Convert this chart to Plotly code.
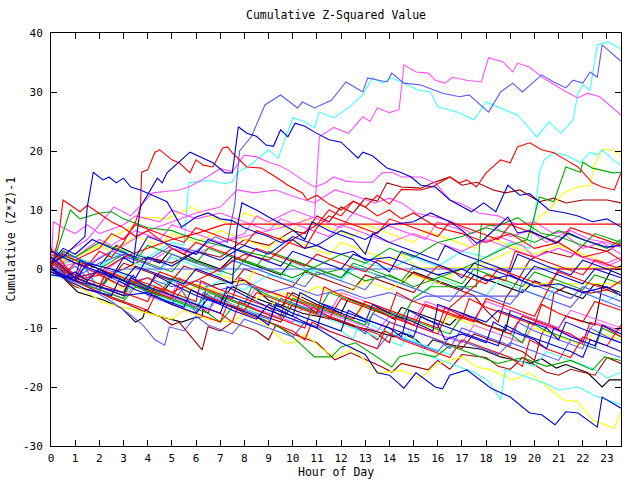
import plotly.graph_objects as go

# ---------------- data (hour, value) knots ----------------
x_ticks = list(range(0, 24))
y_ticks = [-30, -20, -10, 0, 10, 20, 30, 40]
y_ticklabels = ["-30", "-20", "-10", "0", "10", "20", "30", "40"]

lightblue_lines = [
    [(0,1),(1,-1.5),(2,1),(3,2.5),(4,1.5),(5,4),(6,3),(6.8,5.5),(7.3,4.5),(7.6,11),(7.8,20),(8.3,22.5),(8.85,27.8),(9.5,29.5),(10.2,27.3),(10.4,28.3),(10.9,27.3),(11.6,28.6),(12.2,31.7),(12.9,30),(13.1,32.4),(13.9,31.7),(14.1,33.2),(14.6,31.5),(15.3,31.2),(15.9,30.3),(16.2,29.8),(16.9,29.2),(17.3,29.5),(18.1,26.6),(18.6,30),(19.1,31.5),(19.5,30),(20.3,32.9),(20.8,31.7),(21.3,30.7),(21.6,32),(22,31.5),(22.3,33.4),(22.6,32.5),(22.8,38),(23.58,35.2)],
    [(0,-0.5),(0.5,-1.5),(1.5,-3),(2.5,-5.5),(3.2,-7.5),(3.8,-9.5),(4.3,-12),(4.7,-12.9),(4.9,-9.8),(5.5,-10.5),(6,-8),(6.5,-9.5),(7.5,-11),(8,-8.5),(9,-10),(10,-11.5),(10.5,-9),(11.5,-10.5),(12.5,-12),(13.5,-13.5),(14,-11),(15,-12.5),(16,-14),(16.5,-11.5),(17.5,-13),(18.5,-14.5),(19,-12.5),(20,-14),(21,-15.5),(21.5,-12),(22.5,-13.5),(23.58,-15)],
    [(0,2),(0.5,-1),(1,0.5),(1.5,-1.5),(2,0),(2.5,-1),(3,0),(23.58,0)],
    [(0,0),(1,-1.5),(2,-0.5),(3,-2.5),(4,-1.5),(5,-3),(6,-2),(7,-3.5),(8,-2.5),(9,-4),(10,-3),(11,-4.5),(12,-3.5),(13,-5),(14,-4),(15,-5.5),(15.5,-4.6),(19.3,-4.6),(19.5,-2),(20.5,-3.5),(21.5,-5),(22,-3),(23,-4.5),(23.58,-5.5)],
    [(0,3),(1,2),(1.5,0.5),(2.5,3),(3.5,1.5),(4.5,0),(5,2.5),(6,1),(7,-0.5),(7.5,1.5),(8.5,0),(9.5,-1.5),(10.5,-3),(11,-0.5),(12,-2),(13,-3.5),(13.5,-1),(14.5,-2.5),(15.5,-4),(16.5,-5.5),(17,-3),(18,-4.5),(19,-6),(19.5,-3.5),(20.5,-5),(21.5,-6.5),(22,-4),(23,-5.5),(23.58,-6.5)],
    [(0,0.5),(1,-2),(1.4,0.5),(2,-4),(2.3,-1.5),(3,-3),(3.4,-1),(4,-4.5),(5,-6),(5.4,-3.5),(6,-7.5),(6.3,-4),(7,-5.5),(8,-7),(9,-8.5),(9.5,-5),(10.5,-6.5),(11.5,-8),(12.5,-9.5),(13,-11),(13.3,-7.5),(14,-9),(15,-10.5),(16,-12),(16.5,-13.5),(17,-10),(18,-11.5),(19,-13),(19.3,-9),(20,-10.5),(21,-12),(22,-13.5),(22.3,-10),(23,-11.5),(23.58,-12.5)],
]

cyan_lines = [
    [(0,-0.5),(1,2),(2,0.5),(3,3),(4,2),(5,4.5),(5.5,4),(5.7,14.6),(6.5,15),(7.2,14.5),(7.5,14.8),(7.7,16.3),(8.2,17.5),(9,20.2),(9.4,18.8),(10,25.6),(10.5,25),(10.9,23.9),(11.1,26.6),(11.7,25.6),(12.3,27.3),(12.9,29.5),(13.3,32.4),(13.7,31.5),(14.1,32.4),(14.6,31.5),(15.2,30.3),(15.7,30),(16,27.5),(16.8,26.6),(17.5,25.3),(18,28.3),(18.6,27.3),(19.3,26.1),(20.1,22.4),(20.6,24.9),(21.1,23),(21.6,25.3),(21.8,29.8),(22.0,31.2),(22.3,30.3),(22.6,38),(23.05,38.5),(23.58,37.3)],
    [(0,1),(1,-1),(2,-2.5),(2.4,0),(3,-1),(4,-3),(5,-2),(6,-4),(7,-2),(8,-3.5),(9,-1),(10,-2),(11,0),(12,-1.5),(13,1),(14,0),(15,2),(16,0.5),(17,3),(18,2),(19,4.5),(19.8,3.5),(20.0,8.3),(20.2,16.3),(20.4,18.5),(20.8,19.7),(21.3,19.3),(21.9,18),(22.3,19.8),(22.6,19.3),(22.8,20.2),(23.25,18.5),(23.58,17.6)],
    [(0,0),(1,-1.5),(1.3,0.5),(2,-3),(3,-4.5),(3.5,-2),(4.5,-3.5),(5.5,-5),(6.5,-6.5),(7,-4),(8,-5.5),(9,-7),(10,-8.5),(10.5,-10),(10.8,-7),(11.5,-8.5),(12.5,-10),(13.5,-11.5),(14.5,-13),(14.8,-10.5),(15.5,-14.5),(16.5,-16),(17.5,-17.5),(18.1,-19),(18.6,-22.2),(18.8,-17),(19.5,-18),(20.5,-19.5),(21,-20.5),(21.8,-20),(22.5,-21.5),(23.58,-23)],
    [(0,4),(0.5,2),(1,1),(2,-0.5),(2.5,2.5),(3.5,1),(4.5,-0.5),(5,2),(6,0.5),(7,-1),(7.5,1.5),(8.5,0),(9.5,-1.5),(10,1),(11,-0.5),(12,-2),(12.5,0.5),(13.5,-1),(14.5,-2.5),(15.5,-4),(16,-1.5),(17,-3),(18,-4.5),(18.5,-2),(19.5,-3.5),(20.5,-5),(21,-2.5),(22,-4),(23,-5.5),(23.58,-4)],
    [(0,-1),(1,-2),(2,-3.5),(3,-5),(3.3,-2.5),(4,-4),(5,-5.5),(6,-7),(6.5,-4.5),(7.5,-6),(8.5,-7.5),(9,-9),(9.3,-6),(10,-7.5),(11,-9),(12,-10.5),(12.5,-12),(12.8,-8.5),(13.5,-10),(14.5,-11.5),(15.5,-13),(16.5,-14.5),(17,-12),(18,-13.5),(19,-15),(20,-16.5),(20.5,-14),(21.5,-15.5),(22.5,-17),(23,-18.5),(23.58,-17.5)],
]

magenta_lines = [
    [(0,0),(1,1),(2,-1),(3,2),(4,1),(5,3.5),(6,2.5),(7,4.5),(8,5.5),(9,6.5),(10,7.5),(10.9,8.8),(11.1,22.4),(11.7,24),(12.3,23),(12.9,25.8),(13.2,25),(13.5,27.3),(14.0,26.5),(14.4,27),(14.6,34.6),(15.1,33.4),(15.6,33.2),(15.9,32),(16.3,31.5),(16.6,32.5),(17.2,32),(17.8,31.7),(18.1,35.8),(18.7,35.1),(19.1,33.4),(19.3,34.9),(19.8,34.2),(20.35,32.4),(21.2,30.3),(21.8,29),(22.2,29.8),(22.7,29.2),(23.58,26.1)],
    [(0,1.5),(0.7,3),(1.5,5),(2.6,10.5),(3.3,9),(4.2,12.9),(5.3,13.4),(5.7,13.9),(6.45,15.6),(7.0,17),(7.5,16.5),(8.0,19.3),(8.5,19),(9.0,18.1),(9.4,17.6),(9.8,16.8),(10.4,15.1),(10.9,13.9),(11.3,14.5),(11.7,15.6),(12.2,14.9),(12.7,14.7),(13.3,14.7),(13.7,16.3),(14.1,16.4),(14.5,15.6),(15.3,15.6),(15.9,14.6),(16.5,11.7),(17.0,11),(17.7,9.5),(18.5,9),(19.3,7.5),(20,8),(20.8,6),(21.5,6.5),(22.3,5),(23,4.5),(23.58,3.7)],
    [(0,2.5),(1,-1),(2,2),(3,4),(4,6.5),(5,8),(6,9.5),(7,10.5),(7.7,13.4),(8.4,12.9),(9.3,13.4),(10.1,12.2),(10.9,11.2),(11.2,12),(11.75,13.4),(12.5,12.5),(13.4,11.2),(14.0,12),(14.5,11.2),(15.1,9.5),(15.9,8.8),(16.6,8),(17.4,6),(18.2,7.5),(19,5.5),(19.8,6.5),(20.5,4.5),(21.2,6),(22,3.5),(22.8,4.5),(23.58,2.5)],
    [(0,1),(0.1,8),(0.5,7),(1,6),(1.5,7.5),(2,6),(3,7.5),(3.5,9),(4.5,8),(5,10),(6,8.5),(7,9.5),(8,8),(9,6.5),(9.5,8.5),(10.5,7),(11.5,5.5),(12,7.5),(13,6),(14,4.5),(15,6),(16,4.5),(17,3),(18,5),(19,3.5),(20,2),(21,3.5),(22,2),(23,1),(23.58,2)],
    [(0,-0.5),(1,-1.5),(2,-3),(2.3,0),(3,-1.5),(4,-3),(5,-4.5),(5.3,-1.5),(6,-3),(7,-4.5),(8,-6),(8.5,-3),(9.5,-4.5),(10.5,-6),(11.5,-7.5),(12,-4),(13,-5.5),(14,-7),(15,-8.5),(15.5,-5.5),(16.5,-7),(17.5,-8.5),(18,-5.5),(19,-7),(20,-8.5),(21,-10),(21.5,-7),(22.5,-8.5),(23.58,-10)],
    [(0,0.5),(1,2),(2,5),(2.5,4),(3.5,6.5),(4.5,5),(5,7.5),(6,6),(7,4.5),(8,6),(8.5,9),(9,8),(10,10),(11,8.5),(12,7),(12.5,9.5),(13.5,8),(14.5,6.5),(15.5,5),(16,8),(17,6.5),(17.5,4),(18.5,5.5),(19.5,4),(20,2),(21,3.5),(22,2),(23,0.5),(23.58,1.5)],
    [(0,0),(1,-2),(2,-3.5),(3,-5),(3.5,-2.5),(4.5,-4),(5.5,-5.5),(6.5,-7),(7,-4.5),(8,-6),(9,-7.5),(10,-9),(10.5,-6),(11.5,-7.5),(12.5,-9),(13.5,-10.5),(14,-8),(15,-9.5),(16,-11),(17,-12.5),(17.5,-9.5),(18.5,-11),(19.5,-12.5),(20,-9),(21,-10.5),(22,-12),(22.5,-9),(23.58,-10.5)],
]

blue_lines = [
    [(0,0.5),(0.5,-1.5),(1,-0.5),(1.5,-2),(2,0),(2.5,-1.5),(3,2),(3.4,1),(3.7,10.5),(4.4,15.4),(4.6,14.6),(4.8,16.3),(5.75,19.8),(6.3,18.8),(6.7,18),(7.2,16.3),(7.5,16.3),(7.75,24.1),(8.1,23),(8.5,22.5),(8.9,21),(9.2,20.8),(9.5,23.6),(9.8,22.4),(10.1,24.7),(10.5,24.2),(10.9,23.2),(11.5,21.9),(12.0,21.5),(12.7,18.8),(12.9,19.8),(13.3,19.2),(13.9,17.1),(14.5,16.3),(14.9,15.6),(15.3,14.2),(15.9,13.9),(16.5,11.7),(17.4,9.7),(17.9,11.2),(18.4,9.7),(18.9,14.2),(19.4,12.5),(19.8,12.8),(20.2,11.4),(20.6,10),(21.3,9.5),(21.8,9),(22.4,8),(23,8.5),(23.58,7.1)],
    [(0,3),(0.5,2),(1.0,4),(1.4,5.5),(1.5,10.5),(1.75,16.4),(2.15,15.1),(2.4,15.6),(2.7,14.6),(3.0,15.4),(3.3,13.9),(3.7,13.4),(4.2,12.5),(4.8,11.4),(5.4,7.1),(6,8.8),(6.5,9.5),(7,8.5),(7.5,8.2),(8,7),(8.5,6.2),(9,5.5),(9.5,4.5),(10,5),(10.5,3.5),(11,4),(11.5,3),(12,2.5),(12.5,3),(13,1.5),(14,2),(15,0.5),(16,-1),(17,0),(18,-2),(19,-1),(20,-3),(21,-2.5),(22,-4),(23,-3),(23.58,-4.5)],
    [(0,0),(1,-2),(2,-3),(3,-4.5),(4,-4),(5,-6),(6,-7.5),(6.5,-5),(7.5,-7),(8.5,-8.5),(9,-6),(10,-8),(11,-10),(12,-12.5),(13,-14.5),(13.5,-17.6),(14,-18),(14.6,-20.2),(15.1,-17.6),(15.9,-20),(16.2,-20.3),(16.5,-18),(17.2,-17.1),(18.2,-20.2),(19,-21.7),(19.8,-24.4),(20.3,-24.7),(20.85,-26.4),(21.3,-24.2),(21.8,-24.4),(22.6,-26.8),(22.8,-21.7),(23.58,-23.6)],
    [(0,1),(0.5,2),(1,1),(2,-0.5),(3,-2),(3.5,0.5),(4.5,-1),(5.5,-2.5),(6,0),(7,-1.5),(7.5,-2.5),(7.7,7),(7.9,11.2),(8.5,10),(9,8.8),(10,6.6),(10.5,5),(10.8,8),(11.5,6.5),(12.5,5),(13,2.5),(13.3,6),(14,4.5),(15,3),(16,1.5),(16.3,4),(17,2.5),(18,1),(19,-0.5),(19.3,2.5),(20.5,0.5),(21.5,-1),(22,1.5),(23,0),(23.58,-1)],
    [(0,-0.5),(1,-2),(1.5,1),(2.5,0),(3.5,-1.5),(4,2),(5,0.5),(6,3),(7,1.5),(8,4),(9,2.5),(10,5.5),(11,4),(12,6.5),(13,5),(14,7.5),(15,8),(15.7,9.5),(16.5,8),(17,6.6),(17.6,4.4),(17.9,5),(18.9,8.8),(19.3,6.1),(19.8,6.5),(20.9,4.4),(21.4,6.1),(22,5),(23,3.7),(23.58,4)],
    [(0,2),(1,-1.5),(1.2,1.5),(2,0),(3,-2),(4,-3.5),(4.3,-1),(5,-2.5),(6,-4.5),(7,-6),(7.3,-3),(8,-4.5),(9,-6.5),(10,-8),(10.3,-4),(11,-5.5),(12,-7.5),(13,-9),(13.3,-6),(14,-7.5),(15,-9),(15.8,-10.5),(16,-6),(17,-7.5),(18,-9),(18.5,-7),(19.5,-8.5),(20.5,-10),(21,-12),(21.3,-9),(22.5,-11),(23.58,-12.5)],
    [(0,0),(0.7,-2),(1.5,-3.5),(2.5,-4.5),(2.8,-2),(3.5,-3.5),(4.5,-5),(5.5,-6.5),(5.8,-3.5),(6.5,-5),(7.5,-6.5),(8.5,-8),(9,-9.5),(9.3,-6),(10,-7.5),(11,-9),(12,-10.5),(12.3,-7),(13,-8.5),(14,-10),(15,-11.5),(15.3,-8),(16,-9.5),(16.3,-12),(17,-11),(18,-12.5),(18.3,-9),(19,-10.5),(20,-12),(20.5,-13.5),(20.8,-10),(21.5,-11.5),(22.5,-13),(22.8,-9.5),(23.58,-11)],
    [(0,1),(0.5,3.5),(1,2.5),(1.7,5),(2.5,3.5),(3.5,2),(4,5.5),(5,4),(6,2.5),(6.5,5),(7.5,3.5),(8.5,2),(9.5,0.5),(10,3),(11,1.5),(12,0),(12.5,2.5),(13.5,1),(14,-0.5),(14.5,3),(15.5,1.5),(16.5,0),(17,-1.5),(17.5,1),(18.5,-0.5),(19.5,-2),(20,0.5),(21,-1),(22,-2.5),(22.5,0),(23.58,-1.5)],
    [(0,-1),(1,-1.5),(2,-3),(3,-4),(3.3,-1.5),(4,-3),(5,-4.5),(6,-6),(7,-7.5),(7.3,-4.5),(8,-5.5),(9,-7),(10,-8.5),(11,-10),(11.3,-6),(12,-7),(13,-8.5),(14,-10),(14.5,-11.5),(14.8,-7),(15.5,-8.5),(16.5,-10),(17.5,-11.5),(18.5,-13),(18.8,-9.5),(19.5,-11),(20.5,-12.5),(21.5,-14),(22,-15),(22.3,-12),(23,-13),(23.58,-14)],
]

red_lines = [
    [(0,0),(0.5,-1),(1,1),(1.5,0.5),(2,3),(2.5,2),(3,4.5),(3.5,8),(3.7,10.5),(3.75,16.4),(4.0,16.8),(4.3,19.8),(4.5,20.2),(5.0,18.5),(5.3,18),(5.75,16.3),(6.0,18.5),(6.3,17.6),(6.7,17.3),(7.1,20.5),(7.3,20.7),(7.5,19.7),(7.8,18.5),(8.1,17.3),(8.7,17.1),(9.3,15.6),(9.8,14.2),(10.4,12.9),(10.6,11.7),(11,12.5),(11.5,11),(12,10),(12.5,11.5),(13,10.5),(13.5,9),(14,10),(14.5,8.5),(15,9.5),(16,7),(17,6),(18,4.5),(19,6),(20,3.5),(21,4.5),(22,2),(23,3),(23.58,1.5)],
    [(0,1.5),(1,-1.5),(2,-0.5),(3,2),(4,3.5),(5,5),(6,6),(7.2,7.6),(23.58,7.6)],
    [(0,-0.5),(1,-2),(2,-1),(3,-3),(4,-1.5),(5,-4),(6,-2),(7,0),(8,2.5),(9,1.5),(10,5),(11,7.5),(11.5,10),(12,9),(12.5,11.5),(13,10.5),(13.5,12.5),(14,11),(14.5,13.5),(15.3,13.4),(15.8,14),(16.5,15.6),(16.9,14.6),(17.2,15.1),(17.6,13.9),(18.0,16.3),(18.6,18.5),(19.0,18),(19.3,20.7),(19.8,21.4),(20.3,20.2),(20.8,19.7),(21.3,18.5),(21.8,17.3),(22.4,14.6),(22.8,13.9),(23.3,13.4),(23.58,16.3)],
    [(0,0),(0.3,5),(0.5,11.7),(0.9,10.5),(1.2,9.7),(1.5,10.8),(1.9,9.7),(2.5,8),(3,7),(3.5,5.5),(4,6.5),(4.5,5),(5,3.5),(5.5,2.5),(6,4.5),(7,3),(8,1.5),(8.5,3.5),(9.5,2),(10.5,0.5),(11,2.5),(12,1),(13,-0.5),(13.5,1.5),(14.5,0),(15.5,-1.5),(16,0.5),(17,-1),(18,-2.5),(18.5,0),(19.5,-1.5),(20.5,-3),(21,-0.5),(22,-2),(23,-3.5),(23.58,-2)],
    [(0,3.5),(1,-1.5),(2,-3),(2.3,-0.5),(3,-2),(4,-3.5),(5,-5),(5.3,-2.5),(6,-4),(7,-5.5),(8,-7),(8.5,-4),(9.5,-5.5),(10.5,-7),(11.5,-8.5),(12,-5),(13,-6.5),(14,-8),(15,-9.5),(15.5,-6),(16.5,-7.5),(17.5,-9),(18,-5),(19,-6.5),(20,-8),(20.5,-4),(21,0),(23.58,0)],
    [(0,0.5),(0.5,2.5),(1,1.5),(2,3.5),(2.5,6),(3,5),(3.5,7.5),(4.5,6),(5.5,4.5),(6,7),(7,5.5),(8,4),(8.5,6.5),(9.5,5),(10.5,3.5),(11,7),(11.5,9),(12.5,7.5),(13.5,6),(14,8.5),(15,7),(16,5.5),(16.5,8),(17.5,6.5),(18.5,5),(19,7.5),(20,6),(21,4.5),(21.5,7),(22.5,5.5),(23.58,4)],
    [(0,1),(1,-1.5),(2,-3),(3,-4.5),(3.3,-1.5),(4,-2.5),(5,-4),(6,-5.5),(6.2,-2),(7,-3.5),(8,-5),(9,-6.5),(9.5,-8),(9.8,-4),(10.5,-5.5),(11.5,-7),(12.5,-8.5),(13,-5.5),(14,-7),(15,-8.5),(16,-10),(16.3,-6.5),(17,-8),(18,-9.5),(19,-11),(19.5,-8),(20.5,-9.5),(21.5,-11),(22,-12.5),(22.3,-9),(23,-10),(23.58,-11.5)],
    [(0,-0.5),(1,-2),(1.3,1),(2,0),(3,-1.5),(4,-3),(4.5,-0.5),(5.5,-2),(6.5,-3.5),(7.5,-5),(7.8,-1.5),(8.5,-3),(9.5,-4.5),(10.5,-6),(11,-7.5),(11.3,-3),(12,-4.5),(13,-6),(14,-7.5),(14.3,-4),(15,-5.5),(16,-7),(17,-8.5),(17.3,-5),(18,-6.5),(19,-8),(20,-9.5),(20.3,-6),(21,-7.5),(22,-9),(22.5,-5.5),(23.58,-7)],
    [(0,2),(1,-1),(2,-2.5),(3,-4),(4,-5.5),(4.3,-3),(5,-4.5),(6,-6),(7,-7.5),(7.5,-9),(7.8,-5.5),(8.5,-7),(9.5,-8.5),(10.5,-10),(10.8,-6.5),(11.5,-8),(12.5,-9.5),(13.5,-11),(14,-12.5),(14.3,-8),(15,-9.5),(16,-11),(16.5,-6.5),(17.5,-3),(18,-1),(18.8,-2),(19.2,3),(20,2),(21,0.5),(22,-1),(22.5,1.5),(23.58,0)],
    [(0,0),(1,-2),(2,-4),(3,-5.5),(4,-7),(4.3,-4.5),(5,-6),(6,-7.5),(7,-9),(7.3,-6),(8,-7.5),(9,-9),(10,-10.5),(10.5,-12),(10.8,-9),(11.5,-10.5),(12.5,-12),(13.5,-13.5),(13.8,-10.5),(14.5,-12),(15.5,-13.5),(16.5,-15),(17,-12),(18,-13.5),(19,-15),(19.5,-16.5),(19.8,-12),(20.5,-13.5),(21.5,-15),(22,-11.5),(23,-13),(23.58,-9.5)],
]

darkred_lines = [
    [(0,2.5),(1,1),(2,-1),(3,0),(4,2),(5,1),(6,3),(7,2),(8,5),(9,4),(10,6.5),(10.5,6),(11,9),(11.5,8),(12,10.5),(12.5,9.5),(13,12),(13.5,11.5),(13.9,14.6),(14.5,13.9),(15.3,13.7),(15.8,14.6),(16.5,15.6),(17.0,14.2),(17.6,14.7),(18.3,13.4),(18.8,12.9),(19.4,13.4),(20.2,11.4),(20.8,12),(21.3,11.2),(22,11.7),(23,11.7),(23.58,11.2)],
    [(0,0),(0.5,-1.5),(1,-3),(2,-4),(2.5,-5),(3.2,-6),(3.9,-7.3),(4.5,-8),(5,-9.5),(5.3,-9),(5.7,-11),(6.25,-13.7),(6.5,-9.8),(7,-10.5),(7.5,-9),(8.5,-10.5),(9,-12),(9.3,-9.5),(10,-11),(11,-12.5),(11.75,-15.4),(12.4,-14.2),(13.7,-16.6),(14.1,-17.5),(14.5,-16),(15.6,-17.1),(16,-15.5),(16.5,-17),(17,-14.5),(18,-15),(18.5,-16.5),(19,-17),(19.5,-15),(20.5,-17.5),(21,-18),(21.5,-17),(22.5,-18),(23,-15),(23.58,-16)],
    [(0,0.5),(1,1.5),(1.5,0),(2.5,-1.5),(3,1),(4,-0.5),(5,-2),(5.5,0.5),(6.5,-1),(7.5,-2.5),(8,0),(9,-1.5),(10,-3),(10.5,-0.5),(11.5,-2),(12.5,-3.5),(13,-1),(14,-2.5),(15,-4),(15.5,-1.5),(16.5,-3),(17.5,-4.5),(18,-7),(18.5,-9),(18.8,-5),(19.3,-2),(19.8,1.5),(20.5,3),(21.5,2),(22,4),(23,3),(23.58,4.5)],
    [(0,-0.5),(1,-1.5),(2,-3),(3,-4.5),(3.3,-1.5),(4,-3),(5,-4.5),(6,-6),(6.5,-7.5),(6.8,-4.5),(7.5,-6),(8.5,-7.5),(9.5,-9),(10,-6),(11,-7.5),(12,-9),(13,-10.5),(13.5,-12),(14,-9),(15,-10.5),(16,-12),(17,-13.5),(17.5,-11),(18.5,-12.5),(19.5,-14),(20,-15.5),(20.3,-11),(20.6,-9.2),(20.8,-4.1),(21.3,-3),(22.3,-4.1),(23,-3.5),(23.58,-4.5)],
]

green_lines = [
    [(0,0),(0.8,10),(1.2,8.5),(2,9.5),(2.5,9.7),(3,8.5),(4,7),(5,6.5),(6,5),(7,4),(8,3),(9,2),(10,0.5),(11,-1),(12,0),(13,-2),(14,-1),(15,-3),(16,-1.5),(17,0),(18,2),(19,4),(19.7,5),(19.95,8.3),(20.2,12.2),(20.8,11.4),(21.3,17.3),(21.9,16.4),(22,18.1),(22.4,17.1),(23.25,16.3),(23.58,16.4)],
    [(0,1.5),(1,-1.5),(2,-3),(2.5,-1),(3.5,-2.5),(4.5,-4),(5,-1.5),(6,-3),(7,-4.5),(8,-6),(8.3,-3),(9,-4.5),(10,-6),(11,-7.5),(11.5,-4),(12.5,-5.5),(13.5,-7),(14.5,-8.5),(15,-5),(15.7,-3),(17.6,-3),(17.8,7.6),(18.5,7.3),(19.3,8.7),(19.8,7.3),(20.3,6),(21,5.5),(22,4),(22.5,6),(23.58,4.5)],
    [(0,0.5),(0.5,3),(1,2),(2,4.5),(3,3),(3.5,1.5),(4,4),(5,2.5),(6,1),(6.5,3.5),(7.5,2),(8.5,0.5),(9,3),(10,1.5),(11,0),(12,-1.5),(12.5,1),(13.5,-0.5),(14.5,-2),(15,0.5),(16,-1),(17,-2.5),(17.5,0),(18.5,-1.5),(19.5,-3),(20,-0.5),(21,-2),(22,-3.5),(22.5,-1),(23.58,-2.5)],
    [(0,0),(1,-2),(2,-4),(3,-5.5),(3.5,-3),(4.5,-4.5),(5.5,-6),(6.5,-7.5),(7,-9),(7.5,-6.5),(8.5,-8),(9.5,-10),(10,-11.5),(10.9,-14.9),(11.6,-14.9),(12,-13.2),(12.6,-12.5),(13.5,-14.9),(14.1,-16.6),(14.4,-14.9),(15.1,-14.2),(15.9,-14.9),(16.5,-13),(17.5,-14.5),(18.5,-16),(19.5,-15),(20.5,-16.5),(21.5,-15.5),(22.4,-17.1),(22.9,-14.9),(23.58,-15.5)],
    [(0,-0.5),(1,-2),(2,-3.5),(3,-5),(3.3,-2),(4,-3.5),(5,-5),(6,-6.5),(6.5,-4),(7.5,-5.5),(8.5,-7),(9.5,-8.5),(10,-5),(11,-6.5),(12,-8),(13,-9.5),(13.5,-6.5),(14.5,-8),(15.5,-9.5),(16.5,-11),(17,-8),(18,-9.5),(19,-11),(19.5,-12.5),(19.8,-9),(20.5,-10.5),(21.5,-12),(22.5,-13.5),(22.8,-10),(23.58,-11.5)],
    [(0,3),(1,1.5),(2,0),(3,2.5),(4,1),(5,-0.5),(5.5,2),(6.5,0.5),(7.5,-1),(8,1.5),(9,0),(10,-1.5),(11,0.5),(12,2.5),(13,1),(14,3.5),(15,2),(16,4.5),(17,5.5),(18,7),(19,6),(20,4.5),(21,6.5),(22,5),(23,3.5),(23.58,5)],
]

yellow_lines = [
    [(0,0.5),(1,-2),(2,-1),(3,-3.5),(4,-2.5),(5,-5),(6,-3),(7,-4.5),(8,-6),(9,-4),(10,-5.5),(11,-3),(12,-4.5),(13,-2),(14,-3.5),(15,-1),(16,-2.5),(17,0),(18,1),(19,3),(19.6,4.5),(20.2,8.8),(20.6,10),(21.2,12.9),(21.8,13.9),(22.3,14.2),(22.45,17.3),(22.8,20.2),(23.2,20.2),(23.58,19.3)],
    [(0,0),(0.5,-1.5),(1.5,-3.9),(2.1,-5.6),(3,-6.5),(4,-7.5),(5,-8.5),(5.5,-7),(6.5,-8.5),(7.5,-9),(8,-7.5),(9,-9.8),(9.7,-12.5),(10.1,-12.5),(10.5,-11),(11.2,-13.5),(11.75,-14.9),(12.5,-13.5),(13.5,-17.6),(14.5,-17.2),(15.3,-18.5),(16,-16),(17,-14.9),(17.6,-16.6),(18.2,-17.1),(19.1,-18.8),(19.8,-17.6),(21.2,-22.2),(21.8,-22.5),(22.4,-25.6),(23.3,-27),(23.58,-24.2)],
    [(0,2),(1,1.5),(2,0),(3,-1.5),(3.5,1),(4.5,-0.5),(5.5,-2),(6,0.5),(7,-1),(8,-2.5),(8.5,0),(9.5,-1.5),(10.5,-3),(11,-0.5),(12,-2),(13,-3.5),(13.5,-1),(14.5,-2.5),(15.5,-4),(16,-1.5),(17,-3),(18,-4.5),(18.5,-2),(19.5,-3.5),(19.8,-2.5),(23.58,-2.5)],
    [(0,0),(1,2),(2,4),(2.5,3),(3.5,5.5),(4.5,4),(5,6),(6,4.5),(7,6.5),(8,5),(9,3.5),(9.5,5.5),(10.5,4),(11.5,2.5),(12,4.5),(13,3),(14,1.5),(14.5,2.5),(15.2,0.2),(23.58,0.2)],
    [(0,1),(1,2),(2,4),(2.5,5.4),(3.3,7),(3.9,8.8),(4.8,8.5),(5.8,10.5),(6.5,9),(7.5,7.5),(8,9.5),(9,8),(10,6.5),(10.5,8.5),(11.5,7),(12.5,5.5),(13,7.5),(14,6),(15,4.5),(15.5,6.5),(16.5,5),(17.5,3.5),(18,5.5),(19,4),(20,2.5),(21,4),(22,2.5),(23,1),(23.58,2)],
    [(0,-1),(1,-1.5),(2,-3),(2.5,-0.5),(3.5,-2),(4.5,-3.5),(5.5,-5),(6,-2.5),(7,-4),(8,-5.5),(9,-7),(9.5,-4),(10.5,-5.5),(11.5,-7),(12.5,-8.5),(13,-6),(14,-7.5),(15,-9),(16,-10.5),(16.5,-8),(17.5,-9.5),(18.5,-11),(19.5,-12.5),(20,-10),(21,-11.5),(22,-13),(22.5,-10.5),(23.58,-12)],
]

black_lines = [
    [(0,0),(0.5,-1.5),(1.1,-3.9),(2.2,-5.3),(2.9,-6.6),(3.5,-9),(3.8,-8.3),(3.9,-6.9),(4.3,-7.8),(5,-8.6),(5.4,-9),(5.9,-8.3),(6.25,-8.1),(6.4,-3),(7,-2.5),(8,-1.9),(8.5,-3.5),(9,-5.3),(10.4,-7.5),(11.75,-8.6),(12.6,-9.8),(13.2,-10.3),(14.2,-11.5),(14.5,-10.8),(15.1,-12),(15.5,-13.4),(15.8,-12),(16.4,-12.8),(17.2,-13.2),(17.8,-13.6),(18.6,-14.9),(19.1,-15.4),(19.8,-16),(20.3,-15.2),(20.9,-16.8),(21.3,-16.2),(22.2,-17.6),(22.8,-20),(23.1,-18.8),(23.58,-18.8)],
    [(0,1),(1,-2),(2,-3.5),(2.5,-1),(3.5,-3),(4.5,-4.5),(5,-2),(6,-4),(7,-5.5),(7.5,-3),(8.5,-5),(9.5,-6.5),(10,-4),(11,-6),(12,-7.5),(12.3,-5),(13.5,-7),(14.2,-8.5),(14.5,-6.5),(15.5,-8),(16.5,-9.5),(17,-7.5),(18,-9.5),(18.8,-10.5),(19,-7),(20,-8.5),(21,-10),(21.3,-8),(22.5,-9.5),(22.8,-3),(23.2,0),(23.58,0.5)],
    [(0,0.5),(0.5,3),(1,2),(2,0.5),(2.7,4),(3.5,2.5),(4.5,1),(5,3.5),(6,1.5),(7,0),(7.5,2),(8.5,0.5),(9.5,-1),(10,1.5),(11,0),(12,-1.5),(12.5,0.5),(13.5,-1),(14.5,-2.5),(15,-0.5),(16,-2),(17,-3.5),(17.5,-1),(18.5,-2.5),(19.5,-4),(20,-2),(21,-3.5),(22,-5),(22.5,-2.5),(23.58,-4)],
]

# ---------------- styling ----------------
groups = [
    (black_lines, "#000000"),
    (darkred_lines, "#a00000"),
    (yellow_lines, "#ffff00"),
    (cyan_lines, "#40ffff"),
    (magenta_lines, "#ff50ff"),
    (green_lines, "#00a800"),
    (lightblue_lines, "#5a5aff"),
    (red_lines, "#ff0000"),
    (blue_lines, "#0000d0"),
]

fig = go.Figure()
for lines, color in groups:
    for pts in lines:
        fig.add_trace(go.Scatter(
            x=[p[0] for p in pts], y=[p[1] for p in pts],
            mode="lines", line=dict(color=color, width=1.1),
            showlegend=False, hoverinfo="skip"))

FONT = "DejaVu Sans Mono"
axis_common = dict(showgrid=False, zeroline=False, showline=True, linecolor="black",
                   linewidth=1, mirror="ticks", ticks="inside", ticklen=6,
                   tickcolor="black", tickwidth=1,
                   tickfont=dict(family=FONT, size=11, color="black"))

fig.update_layout(
    width=640, height=480,
    margin=dict(l=51, r=19, t=33, b=34),
    paper_bgcolor="white", plot_bgcolor="white",
    xaxis=dict(range=[0, 23.58], tickvals=x_ticks, ticklabelstandoff=2, **axis_common),
    yaxis=dict(range=[-30, 40], tickvals=y_ticks, ticktext=y_ticklabels,
               ticklabelstandoff=5, **axis_common),
    annotations=[
        dict(text="Cumulative Z-Squared Value", xref="paper", yref="paper",
             x=0.5, y=(446 - 15) / 413, xanchor="center", yanchor="middle",
             showarrow=False, font=dict(family=FONT, size=11.5, color="black")),
        dict(text="Hour of Day", xref="paper", yref="paper",
             x=0.5, y=(446 - 472) / 413, xanchor="center", yanchor="middle",
             showarrow=False, font=dict(family=FONT, size=11.5, color="black")),
        dict(text="Cumulative (Z*Z)-1", xref="paper", yref="paper",
             x=(10 - 51) / 570, y=0.5, xanchor="center", yanchor="middle",
             textangle=-90, showarrow=False,
             font=dict(family=FONT, size=11.5, color="black")),
    ],
)

fig.write_html("out.html")
